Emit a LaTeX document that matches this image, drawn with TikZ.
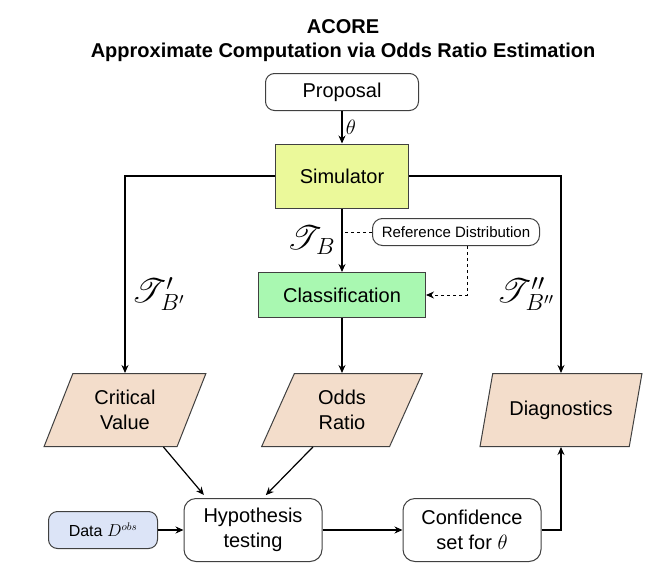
\documentclass[tikz,border=0pt]{standalone}
\usepackage{fontspec}
\usepackage{graphicx}
\usepackage{mathrsfs}
\setmainfont{Liberation Sans}
\usetikzlibrary{arrows.meta,shapes.geometric}
\definecolor{simyellow}{HTML}{EBF99A}
\definecolor{clsgreen}{HTML}{A9F8B1}
\definecolor{outpeach}{HTML}{F3DDCB}
\definecolor{datablue}{HTML}{DCE4F7}
\tikzset{
  box/.style={draw=black!75, line width=1pt, rounded corners=9pt, align=center, font=\fontsize{20}{25}\selectfont},
  proc/.style={draw=black!75, line width=1pt, align=center, font=\fontsize{20}{25}\selectfont},
  outbox/.style={trapezium, trapezium left angle=68, trapezium right angle=112, trapezium stretches=true,
    draw=black!75, line width=1pt, fill=outpeach, minimum width=162pt, minimum height=73pt,
    align=center, font=\fontsize{20}{25}\selectfont},
  lab/.style={font=\fontsize{24}{28}\selectfont, inner sep=1pt},
  refline/.style={line width=1pt, dash pattern=on 3pt off 3pt},
}
\begin{document}
\begin{tikzpicture}[x=1pt, y=-1pt, node distance=84pt, line width=1.2pt, >={Stealth[length=8pt,width=7pt]}]
\useasboundingbox (0,0) rectangle (657,579);
\node(title) at (343,41) [align=center, font=\bfseries\fontsize{20}{24}\selectfont] {ACORE\\Approximate Computation via Odds Ratio Estimation};
\node(prop) at (342,92) [box, minimum width=153pt, minimum height=37pt] {Proposal};
\node(sim) [below of=prop, proc, fill=simyellow, minimum width=133pt, minimum height=64pt] {Simulator};
\node(cls) [below of=sim, node distance=119pt, proc, fill=clsgreen, minimum width=167pt, minimum height=45pt] {Classification};
\node(ref) at (456,232) [box, rounded corners=10pt, font=\fontsize{15}{18}\selectfont, minimum width=167pt, minimum height=27pt, inner sep=2pt] {Reference Distribution};
\node(odds) [below of=cls, node distance=115pt, outbox] {Odds\\Ratio};
\node(crit) [left of=odds, node distance=217pt, outbox] {Critical\\Value};
\node(diag) [right of=odds, node distance=219pt, outbox] {Diagnostics};
\node(hyp) at (253,530) [box, rounded corners=12pt, minimum width=138pt, minimum height=63pt] {Hypothesis\\testing};
\node(conf) [right of=hyp, node distance=219pt, box, rounded corners=12pt, minimum width=138pt, minimum height=63pt] {Confidence\\set for $\theta$};
\node(data) [left of=hyp, node distance=150pt, box, fill=datablue, font=\fontsize{16}{20}\selectfont, minimum width=109pt, minimum height=37pt] {Data $D^{obs}$};
\draw[->](prop) to node [right, font=\fontsize{21}{24}\selectfont] {$\theta$}(sim);
\draw[->](sim) to node [lab, left=5pt] {\scalebox{1.35}{$\mathscr{T}_{\,B}$}}(cls);
\draw[->](sim) -| node [lab, pos=0.8, right=5pt] {\scalebox{1.35}{$\mathscr{T}'_{\,B'}$}}(crit);
\draw[->](sim) -| node [lab, pos=0.8, left=5pt] {\scalebox{1.35}{$\mathscr{T}''_{\,B''}$}}(diag);
\draw[->](cls) to (odds);
\draw[refline](ref) -- (ref -| sim);
\draw[refline, ->]([xshift=11pt]ref.south) |- (cls);
\draw[->, shorten >=4pt]([xshift=-14pt]crit.bottom right corner) -- ([xshift=23pt]hyp.north west);
\draw[->, shorten >=4pt]([xshift=52pt]odds.bottom left corner) -- ([xshift=10pt]hyp.north);
\draw[->](data) to (hyp);
\draw[->](hyp) to (conf);
\draw[->](conf) -| (diag);
\end{tikzpicture}
\end{document}
